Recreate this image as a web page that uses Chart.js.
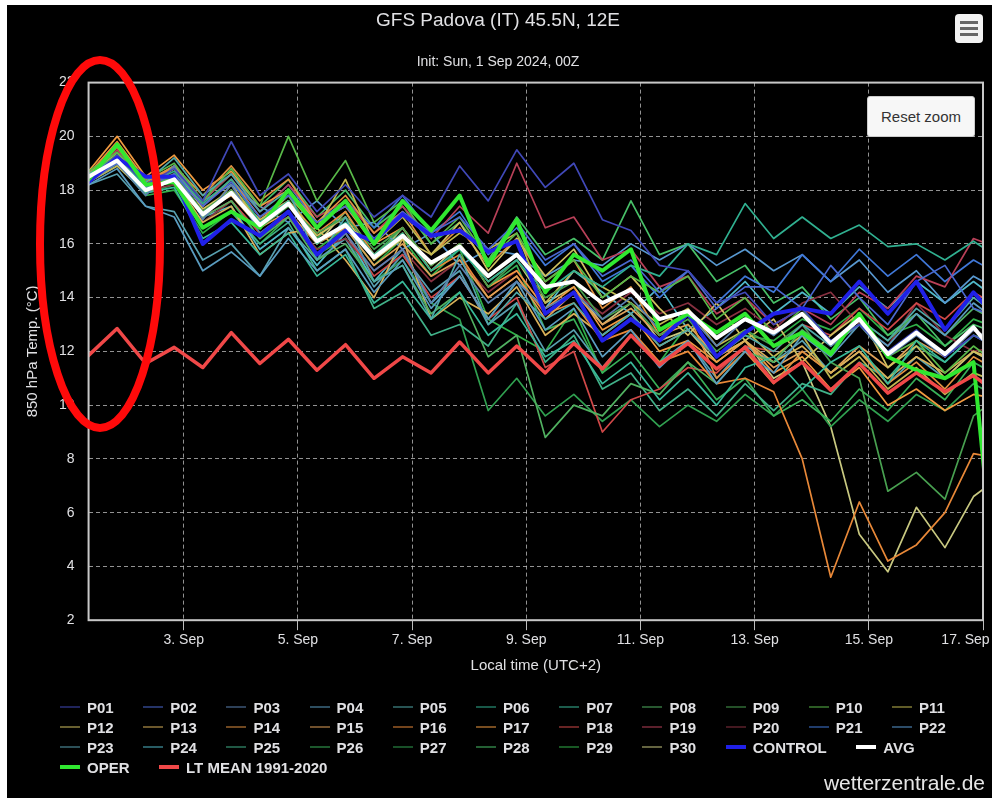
<!DOCTYPE html>
<html>
<head>
<meta charset="utf-8">
<title>GFS Padova 850 hPa</title>
<script src="https://cdn.jsdelivr.net/npm/chart.js@4.4.0/dist/chart.umd.min.js"></script>
<style>
  html, body { margin: 0; padding: 0; background: #fff; }
  #frame { position: absolute; left: 7px; top: 5px; width: 985px; height: 793px; background: #000; overflow: hidden;
           font-family: "Liberation Sans", Arial, sans-serif; }
  #frame canvas { position: absolute; left: 0; top: 0; }
  #menu { position: absolute; left: 948px; top: 9px; width: 28px; height: 29px; background: #f2f2f2; border-radius: 4px; }
  #menu span { position: absolute; left: 5px; width: 18px; height: 3px; background: #666; }
  #reset { position: absolute; left: 860px; top: 91px; width: 106px; height: 39px; background: #f7f7f7; border: 1px solid #ccc;
           border-radius: 3px; color: #333; font-size: 15px; line-height: 39px; text-align: center; }
  #legend { position: absolute; left: 53px; top: 692px; width: 930px; display: flex; flex-wrap: wrap; }
  .item { display: flex; align-items: center; height: 20px; margin-right: 29.5px; color: #e0e0e3; font-weight: bold; font-size: 15px; }
  .sym { display: inline-block; width: 20px; margin-right: 7px; }
  #credit { position: absolute; right: 7px; top: 766px; color: #e6e6e6; font-size: 21px; }
</style>
</head>
<body>
<div id="frame">
  <canvas id="chart" width="985" height="793"></canvas>
  <div id="menu"><span style="top:7px"></span><span style="top:13px"></span><span style="top:19px"></span></div>
  <div id="reset">Reset zoom</div>
  <div id="legend"></div>
  <div id="credit">wetterzentrale.de</div>
</div>
<script>
// hours since 1 Sep 00:00 local time (UTC+2), one value every 12 h
const hours = [8, 20, 32, 44, 56, 68, 80, 92, 104, 116, 128, 140, 152, 164, 176, 188, 200,
  212, 224, 236, 248, 260, 272, 284, 296, 308, 320, 332, 344, 356, 368, 380, 392];

const tickHours = [48, 96, 144, 192, 240, 288, 336, 384];
const tickLabels = ['3. Sep', '5. Sep', '7. Sep', '9. Sep', '11. Sep', '13. Sep', '15. Sep', '17. Sep'];

// ensemble members (850 hPa temperature, °C)
const P01 = [18.4, 19.3, 18.2, 18.8, 17.6, 19.8, 17.8, 18.6, 17.2, 18.2, 17.0, 17.8, 17.0, 18.9, 17.6, 19.5, 18.1, 19.0, 16.9, 16.5, 15.2, 15.0, 13.8, 14.2, 13.0, 13.6, 12.4, 13.0, 12.0, 12.8, 11.8, 12.6, 12.0];
const P02 = [18.5, 19.0, 18.1, 18.6, 17.4, 18.3, 17.0, 17.8, 16.8, 17.4, 16.2, 17.2, 16.4, 17.0, 15.8, 16.8, 15.4, 16.0, 14.8, 15.4, 14.2, 15.0, 13.6, 14.4, 14.4, 13.6, 15.2, 14.0, 13.0, 14.6, 15.2, 13.6, 13.2];
const P03 = [18.3, 19.0, 17.8, 18.9, 16.9, 18.2, 16.4, 17.2, 15.6, 16.4, 15.0, 15.8, 13.8, 15.2, 13.8, 14.6, 13.6, 14.2, 13.2, 14.0, 12.8, 13.4, 12.2, 13.2, 12.6, 13.4, 12.2, 13.0, 11.8, 12.6, 11.8, 12.8, 12.2];
const P04 = [18.2, 18.8, 17.4, 17.0, 15.0, 15.7, 14.8, 16.2, 15.0, 15.8, 14.2, 15.4, 13.6, 14.8, 13.2, 14.6, 12.8, 13.6, 11.8, 12.8, 11.4, 12.4, 10.8, 12.0, 11.2, 12.6, 11.8, 13.0, 12.2, 13.4, 12.6, 13.8, 13.0];
const P05 = [18.6, 19.2, 18.3, 19.2, 17.8, 18.6, 17.2, 18.0, 15.4, 17.0, 14.6, 15.2, 13.2, 15.6, 13.0, 14.2, 13.2, 13.8, 12.6, 13.4, 12.2, 12.8, 11.8, 12.6, 12.0, 13.0, 12.2, 13.2, 12.4, 13.6, 12.8, 14.0, 13.2];
const P06 = [18.5, 19.1, 18.2, 18.7, 17.5, 18.4, 16.8, 17.6, 16.0, 16.8, 15.6, 16.4, 15.0, 15.8, 14.6, 15.4, 14.2, 15.0, 14.4, 15.2, 14.8, 16.0, 15.6, 17.5, 16.2, 17.0, 16.2, 16.7, 15.9, 16.0, 15.4, 16.1, 15.4];
const P07 = [18.4, 19.0, 17.9, 18.1, 16.2, 16.8, 15.6, 16.4, 14.8, 15.6, 13.8, 14.6, 13.2, 14.2, 12.6, 13.4, 11.8, 12.4, 10.8, 11.6, 10.2, 11.2, 10.0, 11.4, 11.8, 10.6, 11.6, 12.2, 10.8, 12.4, 11.6, 12.6, 12.0];
const P08 = [18.6, 19.3, 18.1, 18.5, 17.0, 17.6, 16.2, 17.0, 15.4, 16.0, 14.6, 15.2, 13.4, 14.2, 11.8, 12.6, 8.8, 10.0, 9.6, 10.8, 10.4, 11.6, 10.8, 12.0, 11.6, 12.8, 12.0, 13.2, 12.4, 13.4, 12.6, 13.6, 13.0];
const P09 = [18.4, 19.1, 18.0, 18.6, 17.2, 18.0, 16.6, 17.4, 16.4, 17.0, 15.8, 16.6, 15.2, 16.0, 14.4, 15.4, 14.0, 14.6, 13.2, 13.8, 12.6, 13.2, 12.0, 12.8, 12.2, 13.0, 11.6, 11.0, 6.8, 7.5, 6.5, 9.6, 10.4];
const P10 = [18.7, 19.4, 18.4, 19.0, 17.6, 18.8, 17.4, 20.0, 17.6, 19.1, 16.8, 17.6, 16.0, 17.0, 15.4, 16.4, 14.6, 15.4, 14.0, 14.8, 14.2, 14.8, 13.2, 14.0, 12.6, 13.6, 12.2, 13.0, 11.8, 12.4, 11.2, 12.2, 11.4];
const P11 = [18.3, 18.9, 17.9, 18.4, 17.0, 18.2, 16.8, 17.8, 16.6, 18.4, 16.0, 17.0, 15.6, 16.4, 15.8, 16.4, 13.8, 15.0, 14.4, 13.8, 13.0, 13.6, 12.2, 12.8, 11.8, 12.6, 11.0, 11.8, 10.6, 11.4, 10.4, 11.2, 10.8];
const P12 = [18.5, 19.0, 18.1, 18.8, 17.3, 18.0, 16.9, 17.6, 16.3, 17.0, 15.4, 16.2, 15.6, 16.8, 15.0, 16.2, 14.8, 15.8, 14.0, 14.8, 13.6, 12.6, 13.8, 12.4, 13.2, 11.6, 12.6, 13.4, 11.4, 12.2, 11.0, 12.0, 11.4];
const P13 = [18.4, 19.2, 18.0, 18.4, 16.8, 17.4, 15.6, 16.4, 16.6, 15.4, 14.0, 16.2, 13.2, 14.0, 13.4, 14.4, 12.6, 13.4, 12.6, 13.4, 12.2, 12.8, 11.8, 12.4, 11.6, 12.2, 11.2, 12.0, 11.0, 11.8, 11.2, 12.0, 11.6];
const P14 = [18.6, 19.6, 18.3, 18.9, 17.8, 18.9, 17.6, 18.4, 16.8, 17.8, 16.4, 17.2, 15.6, 16.6, 15.2, 16.2, 14.6, 15.4, 13.6, 14.4, 12.6, 13.4, 11.0, 12.0, 10.8, 12.0, 11.2, 12.0, 10.8, 11.6, 10.6, 11.8, 11.2];
const P15 = [18.5, 19.4, 18.2, 18.3, 17.2, 17.8, 16.6, 17.2, 16.0, 16.6, 15.2, 16.0, 14.8, 15.4, 14.0, 14.8, 13.2, 14.2, 13.0, 13.6, 12.6, 13.0, 11.8, 12.4, 11.4, 12.0, 11.2, 12.2, 11.4, 12.4, 11.8, 12.8, 12.2];
const P16 = [18.6, 19.8, 18.4, 18.8, 17.4, 18.4, 17.0, 17.6, 16.4, 17.2, 15.6, 16.4, 15.0, 15.6, 14.0, 14.8, 13.4, 13.8, 12.4, 12.8, 11.6, 12.0, 10.8, 11.0, 10.5, 8.0, 3.6, 6.4, 4.2, 4.8, 6.0, 8.2, 8.0];
const P17 = [18.7, 20.0, 18.5, 19.3, 18.0, 18.7, 17.4, 18.0, 16.8, 17.4, 16.0, 16.6, 15.2, 16.0, 14.4, 15.0, 13.6, 14.4, 12.8, 13.4, 12.0, 12.4, 11.6, 12.4, 11.2, 11.8, 10.6, 11.4, 10.0, 10.6, 9.8, 10.4, 10.2];
const P18 = [18.6, 19.8, 18.2, 18.6, 17.0, 17.6, 16.4, 17.0, 15.6, 16.4, 14.8, 15.6, 14.0, 14.8, 13.2, 14.0, 11.4, 12.0, 9.0, 10.2, 10.6, 11.4, 11.2, 12.2, 12.0, 13.0, 12.6, 13.6, 12.8, 13.8, 13.2, 14.2, 13.6];
const P19 = [18.5, 19.5, 18.3, 18.8, 17.6, 18.6, 17.2, 18.2, 17.0, 17.6, 16.4, 17.4, 16.2, 17.4, 16.4, 19.0, 16.6, 17.0, 15.4, 15.8, 14.4, 14.8, 13.4, 14.0, 13.0, 13.6, 13.0, 14.2, 13.6, 14.8, 14.4, 16.2, 15.8];
const P20 = [18.4, 19.2, 18.0, 18.2, 16.8, 17.6, 16.4, 17.0, 15.8, 16.2, 15.0, 15.8, 14.6, 15.4, 14.2, 15.0, 13.6, 14.2, 13.4, 14.2, 13.4, 13.8, 13.0, 13.6, 12.8, 13.8, 14.2, 13.0, 12.2, 13.8, 12.6, 12.0, 12.2];
const P21 = [18.3, 18.9, 18.0, 18.6, 17.4, 18.4, 17.2, 18.2, 16.8, 17.6, 16.6, 17.8, 16.4, 17.2, 15.6, 16.6, 15.2, 16.0, 14.6, 15.2, 14.0, 15.0, 13.8, 14.8, 14.2, 15.6, 14.6, 15.8, 14.8, 15.6, 14.6, 15.4, 14.8];
const P22 = [18.4, 19.0, 18.2, 18.9, 17.6, 18.2, 17.4, 16.8, 17.6, 16.6, 16.8, 15.8, 16.4, 15.2, 15.8, 15.6, 14.8, 15.4, 15.2, 16.0, 15.4, 16.0, 15.2, 15.8, 15.0, 15.6, 14.6, 15.4, 14.2, 15.0, 13.8, 14.8, 14.2];
const P23 = [18.2, 18.6, 17.4, 17.2, 15.4, 16.0, 14.8, 16.6, 15.4, 16.2, 14.4, 15.6, 14.2, 15.0, 13.0, 13.8, 12.0, 12.8, 11.4, 12.6, 11.6, 12.4, 11.0, 12.2, 11.6, 12.4, 11.2, 12.0, 10.8, 11.8, 11.0, 12.0, 11.4];
const P24 = [18.5, 19.0, 18.0, 18.6, 17.0, 17.4, 15.8, 16.6, 15.2, 16.4, 14.6, 15.8, 13.8, 14.8, 13.2, 14.6, 13.6, 15.0, 14.2, 13.4, 14.4, 12.8, 13.6, 14.6, 13.4, 14.2, 13.4, 14.4, 13.6, 14.6, 13.8, 14.6, 13.8];
const P25 = [18.6, 19.2, 18.2, 18.4, 16.6, 17.2, 16.0, 16.8, 15.0, 15.8, 13.6, 14.2, 12.6, 13.0, 12.2, 13.8, 11.6, 12.6, 10.6, 11.2, 9.8, 10.6, 9.6, 10.8, 9.8, 10.8, 10.4, 11.6, 11.0, 12.2, 11.6, 12.6, 12.2];
const P26 = [18.4, 19.0, 18.1, 18.3, 17.2, 18.0, 16.8, 17.8, 16.2, 17.2, 15.6, 16.6, 15.2, 16.0, 14.4, 15.2, 12.8, 13.2, 11.2, 12.0, 10.6, 11.6, 10.2, 11.0, 9.6, 10.2, 9.4, 10.6, 9.8, 11.0, 10.2, 11.6, 11.0];
const P27 = [18.5, 19.1, 17.9, 18.2, 16.8, 17.6, 16.2, 17.2, 15.6, 16.2, 14.6, 15.4, 13.8, 13.2, 9.8, 11.0, 9.6, 10.4, 9.4, 10.2, 9.2, 10.0, 9.4, 10.4, 9.6, 10.6, 9.2, 10.2, 9.4, 10.4, 9.8, 10.8, 10.2];
const P28 = [18.6, 19.4, 18.3, 18.9, 17.6, 18.6, 17.4, 18.4, 17.0, 18.0, 16.6, 17.4, 16.0, 16.8, 15.4, 17.0, 15.6, 16.2, 15.4, 17.6, 15.6, 16.0, 14.6, 15.2, 13.8, 14.4, 13.2, 14.0, 12.6, 13.4, 12.2, 13.0, 12.6];
const P29 = [18.3, 19.0, 17.8, 18.0, 16.4, 17.2, 16.0, 17.0, 15.8, 16.6, 15.2, 16.2, 14.8, 15.8, 13.2, 12.6, 12.0, 13.6, 11.2, 12.6, 11.6, 13.0, 11.8, 12.6, 12.4, 13.2, 12.8, 13.6, 12.6, 13.0, 12.2, 13.2, 12.8];
const P30 = [18.4, 19.0, 17.9, 18.5, 17.2, 18.0, 16.6, 17.6, 16.0, 17.2, 15.4, 16.6, 15.0, 16.0, 14.6, 15.4, 13.8, 14.4, 13.0, 13.8, 12.4, 12.8, 11.6, 12.4, 11.0, 11.6, 9.2, 5.2, 3.8, 6.2, 4.7, 6.6, 7.4];

const control = [18.3, 19.2, 18.5, 18.5, 16.0, 16.9, 16.3, 17.2, 15.6, 16.5, 16.1, 17.1, 16.3, 16.5, 15.7, 16.1, 13.4, 14.2, 12.4, 13.2, 12.4, 13.4, 11.8, 12.7, 13.4, 13.6, 13.4, 14.6, 13.4, 14.6, 12.8, 14.2, 13.0];
const avg = [18.5, 19.1, 18.0, 18.4, 17.1, 17.9, 16.7, 17.5, 16.1, 16.7, 15.5, 16.3, 15.3, 15.9, 14.8, 15.6, 14.4, 14.6, 13.8, 14.3, 13.2, 13.5, 12.5, 13.2, 12.7, 13.4, 12.3, 13.2, 11.9, 12.7, 11.9, 12.9, 11.6];
const oper = [18.4, 19.7, 18.2, 18.3, 16.6, 17.2, 16.6, 18.0, 16.6, 17.6, 16.0, 17.6, 16.5, 17.8, 15.2, 16.9, 14.2, 15.6, 15.0, 15.8, 12.8, 13.4, 12.7, 13.4, 12.2, 12.7, 11.9, 13.4, 11.8, 11.3, 11.0, 11.6, 0.8];
const ltMean = [11.85, 12.85, 11.55, 12.15, 11.4, 12.7, 11.55, 12.45, 11.3, 12.25, 11.0, 11.8, 11.2, 12.35, 11.2, 12.2, 11.2, 12.3, 11.35, 12.6, 11.5, 12.3, 11.35, 12.15, 10.85, 11.6, 10.55, 11.55, 10.45, 11.2, 10.5, 11.1, 10.3];

const members = [P01, P02, P03, P04, P05, P06, P07, P08, P09, P10, P11, P12, P13, P14, P15,
  P16, P17, P18, P19, P20, P21, P22, P23, P24, P25, P26, P27, P28, P29, P30];
const memberNames = ['P01', 'P02', 'P03', 'P04', 'P05', 'P06', 'P07', 'P08', 'P09', 'P10', 'P11', 'P12', 'P13', 'P14', 'P15',
  'P16', 'P17', 'P18', 'P19', 'P20', 'P21', 'P22', 'P23', 'P24', 'P25', 'P26', 'P27', 'P28', 'P29', 'P30'];
const memberColors = ['#4048b8', '#4a68d0', '#5a80b0', '#5a9cc0', '#50a8a8', '#30b090', '#38b898', '#50b060', '#48a050', '#58b848',
  '#c0b850', '#d0c060', '#d8b058', '#e09040', '#e0a058', '#e88838', '#f09a40', '#d04848', '#b84058', '#883040',
  '#4078d8', '#5898d0', '#58a0b0', '#50b8c8', '#40b088', '#38b058', '#30a050', '#48c068', '#30b048', '#c8c880'];

Chart.defaults.font.family = '"Liberation Sans", Arial, sans-serif';
Chart.defaults.color = '#e0e0e3';

const datasets = members.map((vals, k) => ({
  label: memberNames[k],
  data: vals,
  borderColor: memberColors[k],
  borderWidth: 1.7,
  order: 10 + k
}));
datasets.push({ label: 'CONTROL', data: control, borderColor: '#2020e8', borderWidth: 4, order: 3 });
datasets.push({ label: 'AVG', data: avg, borderColor: '#ffffff', borderWidth: 4, order: 1 });
datasets.push({ label: 'OPER', data: oper, borderColor: '#30e830', borderWidth: 4, order: 2 });
datasets.push({ label: 'LT MEAN 1991-2020', data: ltMean, borderColor: '#f04848', borderWidth: 3.5, order: 0 });

const gridColor = 'rgba(195,195,195,0.75)';

// plot frame and the red marker ellipse
const framePlugin = {
  id: 'plotFrame',
  afterDatasetsDraw(chart) {
    const { ctx, chartArea: a } = chart;
    ctx.save();
    ctx.strokeStyle = '#c8c8c8';
    ctx.lineWidth = 2;
    ctx.strokeRect(a.left, a.top, a.right - a.left, a.bottom - a.top);
    ctx.restore();
  },
  afterDraw(chart) {
    const ctx = chart.ctx;
    ctx.save();
    ctx.strokeStyle = '#ff0a0a';
    ctx.lineWidth = 8;
    ctx.beginPath();
    ctx.ellipse(93, 239, 60, 184, 0, 0, Math.PI * 2);
    ctx.stroke();
    ctx.restore();
  }
};

const chart = new Chart(document.getElementById('chart'), {
  type: 'line',
  data: { labels: hours, datasets: datasets },
  options: {
    responsive: false,
    animation: false,
    layout: { autoPadding: false, padding: { left: 6, right: 9, top: 0, bottom: 123 } },
    elements: {
      point: { radius: 0, hoverRadius: 0 },
      line: { tension: 0, borderJoinStyle: 'round', borderCapStyle: 'round' }
    },
    plugins: {
      legend: { display: false },
      tooltip: { enabled: false },
      title: {
        display: true,
        text: 'GFS Padova (IT) 45.5N, 12E',
        color: '#e0e0e3',
        font: { size: 19, weight: 'normal' },
        padding: { top: 4, bottom: 22 }
      },
      subtitle: {
        display: true,
        text: 'Init: Sun, 1 Sep 2024, 00Z',
        color: '#e0e0e3',
        font: { size: 14 },
        padding: { top: 0, bottom: 12 }
      }
    },
    scales: {
      x: {
        type: 'linear',
        min: 8,
        max: 384,
        afterBuildTicks: (scale) => { scale.ticks = tickHours.map(v => ({ value: v })); },
        afterFit: (scale) => { scale.paddingLeft = 0; scale.paddingRight = 0; },
        ticks: {
          autoSkip: false,
          maxRotation: 0,
          padding: 2,
          color: '#e0e0e3',
          font: { size: 14 },
          // last label is pushed left so it stays inside the frame
          callback: (v, i) => tickLabels[i] + (i === tickLabels.length - 1 ? '\u00a0'.repeat(9) : '')
        },
        grid: { color: gridColor, lineWidth: 1, tickLength: 10, tickColor: '#bdbdbd', tickBorderDash: [] },
        border: { display: false, dash: [4, 3] },
        title: {
          display: true,
          text: 'Local time (UTC+2)',
          color: '#e0e0e3',
          font: { size: 15 },
          padding: { top: 6, bottom: 0 }
        }
      },
      y: {
        min: 2,
        max: 22,
        ticks: { stepSize: 2, padding: 14, color: '#e0e0e3', font: { size: 14 } },
        grid: { color: gridColor, lineWidth: 1, drawTicks: false },
        border: { display: false, dash: [4, 3] },
        title: {
          display: true,
          text: '850 hPa Temp. (°C)',
          color: '#e0e0e3',
          font: { size: 15 },
          padding: { top: 11, bottom: 3 }
        }
      }
    }
  },
  plugins: [framePlugin]
});

// legend laid out like the original: fixed item spacing, rows wrap
const legendBox = document.getElementById('legend');
chart.data.datasets.forEach(ds => {
  const item = document.createElement('div');
  item.className = 'item';
  const sym = document.createElement('span');
  sym.className = 'sym';
  sym.style.background = ds.borderColor;
  sym.style.height = ds.borderWidth > 2 ? '4px' : '2px';
  if (ds.borderWidth <= 2) sym.style.opacity = 0.5;
  item.appendChild(sym);
  item.appendChild(document.createTextNode(ds.label));
  legendBox.appendChild(item);
});
</script>
</body>
</html>
